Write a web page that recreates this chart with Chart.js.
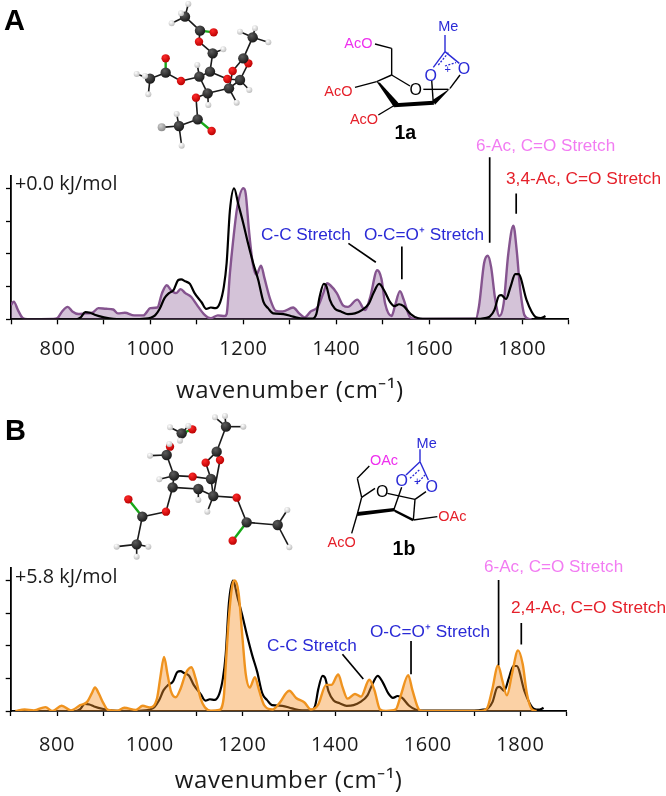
<!DOCTYPE html>
<html>
<head>
<meta charset="utf-8">
<title>IR spectra 1a 1b</title>
<script src="https://cdn.jsdelivr.net/npm/chart.js@4"></script>
<style>
  html, body { margin: 0; padding: 0; background: #fff; }
  #page { position: relative; width: 666px; height: 796px; overflow: hidden; }
  canvas { position: absolute; left: 0; }
  #over { position: absolute; left: 0; top: 0; pointer-events: none; }
  #over text { font-family: "Liberation Sans", Arial, sans-serif; }
</style>
</head>
<body>
<div id="page">
  <canvas id="specA" style="top:130px"></canvas>
  <canvas id="specB" style="top:530px"></canvas>
  <svg id="over" width="666" height="796" viewBox="0 0 666 796" xmlns="http://www.w3.org/2000/svg"></svg>
</div>
<script>
// experimental trace, same in both panels
const expWave = [700, 820, 840, 850, 860, 870, 880, 900, 920, 960, 990, 1000, 1010, 1020, 1030, 1040, 1050, 1060, 1066, 1075, 1085, 1095, 1110, 1120, 1130, 1140, 1150, 1158, 1164, 1171, 1180, 1189, 1200, 1210, 1221, 1232, 1243, 1253, 1264, 1286, 1307, 1329, 1347, 1357, 1364, 1373, 1379, 1386, 1397, 1410, 1425, 1440, 1455, 1470, 1480, 1492, 1503, 1515, 1525, 1535, 1545, 1560, 1575, 1600, 1650, 1700, 1720, 1730, 1740, 1750, 1755, 1765, 1775, 1785, 1792, 1809, 1820, 1830, 1840, 1845, 1850];
const expInt = [0, 0, 0, 0.015, 0.055, 0.05, 0.035, 0.015, 0.003, 0, 0.005, 0.012, 0.03, 0.08, 0.16, 0.2, 0.225, 0.3, 0.305, 0.29, 0.27, 0.2, 0.13, 0.08, 0.09, 0.085, 0.13, 0.25, 0.43, 0.83, 1, 0.88, 0.73, 0.58, 0.43, 0.3, 0.135, 0.085, 0.045, 0.04, 0.02, 0.005, 0.005, 0.04, 0.17, 0.27, 0.25, 0.15, 0.08, 0.06, 0.04, 0.045, 0.07, 0.12, 0.2, 0.27, 0.22, 0.135, 0.1, 0.115, 0.1, 0.04, 0.01, 0.003, 0.004, 0.003, 0.01, 0.02, 0.07, 0.18, 0.185, 0.155, 0.25, 0.345, 0.345, 0.15, 0.06, 0.015, 0.01, 0.015, 0.025];

// computed 1a
const calcAWave = [700, 706, 715, 725, 735, 790, 800, 810, 822, 832, 845, 860, 875, 888, 905, 920, 930, 945, 965, 985, 1000, 1015, 1025, 1035, 1045, 1055, 1065, 1075, 1088, 1100, 1115, 1130, 1145, 1160, 1164, 1171, 1178, 1187, 1200, 1205, 1212, 1220, 1228, 1238, 1245, 1258, 1270, 1285, 1307, 1320, 1332, 1345, 1360, 1372, 1380, 1387, 1401, 1415, 1425, 1445, 1462, 1473, 1488, 1497, 1505, 1519, 1526, 1537, 1545, 1558, 1570, 1700, 1707, 1718, 1726, 1733, 1742, 1751, 1760, 1770, 1781, 1788, 1795, 1805, 1816, 1820];
const calcAInt = [0.11, 0.135, 0.07, 0.01, 0, 0.003, 0.01, 0.06, 0.095, 0.06, 0.04, 0.045, 0.05, 0.085, 0.08, 0.075, 0.045, 0.05, 0.03, 0.03, 0.085, 0.09, 0.2, 0.26, 0.22, 0.2, 0.23, 0.2, 0.17, 0.11, 0.04, 0.008, 0.03, 0.025, 0.04, 0.35, 0.6, 0.86, 1, 0.96, 0.68, 0.43, 0.34, 0.41, 0.32, 0.15, 0.065, 0.06, 0.09, 0.045, 0.015, 0.06, 0.095, 0.2, 0.275, 0.26, 0.2, 0.105, 0.095, 0.15, 0.07, 0.17, 0.375, 0.31, 0.12, 0.025, 0.1, 0.215, 0.15, 0.02, 0.003, 0.005, 0.1, 0.43, 0.485, 0.4, 0.15, 0.025, 0.12, 0.5, 0.715, 0.53, 0.25, 0.03, 0.002, 0];

// computed 1b
const calcBWave = [710, 730, 750, 775, 790, 810, 830, 850, 865, 875, 882, 890, 900, 910, 930, 945, 970, 985, 1000, 1016, 1023, 1031, 1038, 1046, 1056, 1067, 1078, 1090, 1099, 1110, 1119, 1132, 1150, 1160, 1164, 1171, 1179, 1184, 1192, 1200, 1207, 1216, 1227, 1236, 1247, 1265, 1280, 1301, 1316, 1334, 1348, 1363, 1381, 1392, 1407, 1416, 1427, 1443, 1456, 1474, 1485, 1497, 1510, 1531, 1542, 1558, 1567, 1581, 1590, 1715, 1728, 1739, 1752, 1761, 1771, 1782, 1795, 1805, 1814, 1825, 1835];
const calcBInt = [0, 0.012, 0.005, 0.03, 0, 0.04, 0.005, 0.045, 0.07, 0.135, 0.18, 0.135, 0.06, 0.008, 0.003, 0.025, 0.008, 0.04, 0.028, 0.1, 0.26, 0.415, 0.29, 0.15, 0.105, 0.175, 0.29, 0.335, 0.25, 0.095, 0.028, 0.003, 0.008, 0.11, 0.34, 0.72, 0.975, 1, 0.9, 0.57, 0.29, 0.18, 0.26, 0.16, 0.045, 0.012, 0.06, 0.155, 0.1, 0.065, 0.012, 0.045, 0.2, 0.2, 0.28, 0.185, 0.095, 0.13, 0.11, 0.24, 0.16, 0.012, 0, 0.012, 0.12, 0.275, 0.16, 0.012, 0, 0, 0.02, 0.16, 0.35, 0.235, 0.12, 0.285, 0.465, 0.36, 0.135, 0.012, 0];

const xTickLabels = [800, 1000, 1200, 1400, 1600, 1800];
const yTickValues = [0, 0.25, 0.5, 0.75, 1];
const xTitle = 'wavenumber (cm\u207B\u00B9)';

// callout leaders, in axis units
const leadersA = [
  [[1426, 0.58], [1485, 0.435]],
  [[1541, 0.555], [1541, 0.305]],
  [[1730, 1.237], [1730, 0.585]],
  [[1787, 0.96], [1787, 0.805]],
];
const leadersB = [
  [[1416, 0.435], [1461, 0.245]],
  [[1564, 0.537], [1564, 0.282]],
  [[1753, 1.005], [1753, 0.35]],
  [[1802, 0.674], [1802, 0.51]],
];

const xy = (xs, ys) => xs.map((x, i) => ({ x, y: ys[i] }));

function leaderSets(list) {
  return list.map(seg => ({
    data: seg.map(p => ({ x: p[0], y: p[1] })),
    borderColor: '#000', borderWidth: 1.7, pointRadius: 0, fill: false, clip: false, tension: 0, order: 0,
  }));
}

function makeChart(id, H, box, calcWave, calcInt, lineCol, fillCol, expOnTop, leaders) {
  const canvas = document.getElementById(id);
  return new Chart(canvas, {
    type: 'line',
    data: {
      datasets: [
        { label: 'exp', data: xy(expWave, expInt), borderColor: '#000', borderWidth: 2.2, pointRadius: 0, cubicInterpolationMode: 'monotone', fill: false, order: expOnTop ? 1 : 3 },
        { label: 'calc', data: xy(calcWave, calcInt), borderColor: lineCol, backgroundColor: fillCol, borderWidth: 2.4, pointRadius: 0, cubicInterpolationMode: 'monotone', fill: 'origin', order: 2 },
        ...leaderSets(leaders),
      ],
    },
    options: {
      responsive: false, animation: false, devicePixelRatio: 1,
      layout: { padding: { left: 0, right: 666 - box.right, top: box.top, bottom: 0 } },
      plugins: { legend: { display: false }, tooltip: { enabled: false } },
      scales: {
        x: {
          type: 'linear', min: 700, max: 1900,
          afterFit(s) { s.height = H - box.base; s.paddingLeft = 0; s.paddingRight = 0; },
          ticks: {
            stepSize: 100, autoSkip: false, maxRotation: 0, padding: box.tickPad, color: '#1a1a1a',
            font: { family: '"Open Sans"', size: 20 },
            callback: v => xTickLabels.includes(v) ? String(v) : '',
          },
          grid: { drawOnChartArea: false, tickLength: 5, tickColor: '#000', tickWidth: 1.3 },
          border: { color: '#000', width: 1.8 },
          title: { display: true, text: xTitle, color: '#1a1a1a', font: { family: '"Open Sans"', size: 24 }, padding: { top: 0, bottom: 0 } },
        },
        y: {
          min: 0, max: 1.094,
          afterFit(s) { s.width = box.left; },
          afterBuildTicks(s) { s.ticks = yTickValues.map(value => ({ value })); },
          ticks: { display: false },
          grid: { drawOnChartArea: false, tickLength: 5, tickColor: '#000', tickWidth: 1.3 },
          border: { color: '#000', width: 1.8 },
        },
      },
    },
    plugins: [{ id: 'spacing', beforeDraw(c) { c.ctx.letterSpacing = '0.6px'; } }],
  });
}

function size(id, h) { const c = document.getElementById(id); c.width = 666; c.height = h; c.style.width = '666px'; c.style.height = h + 'px'; }
size('specA', 276); size('specB', 266);

makeChart('specA', 276, { left: 11, right: 568.7, top: 46, base: 189.3, tickPad: 13 }, calcAWave, calcAInt, '#85548f', 'rgba(128,80,140,0.34)', true, leadersA);
makeChart('specB', 266, { left: 10.7, right: 566.7, top: 38.3, base: 181, tickPad: 17 }, calcBWave, calcBInt, '#ef931f', 'rgba(245,145,40,0.42)', false, leadersB);

// ----- overlay: labels and molecule drawings -----
const NS = 'http://www.w3.org/2000/svg';
const over = document.getElementById('over');
function el(name, attrs, parent) {
  const e = document.createElementNS(NS, name);
  for (const k in attrs) e.setAttribute(k, attrs[k]);
  (parent || over).appendChild(e);
  return e;
}
function label(txt, x, y, sz, col, extra) {
  const t = el('text', Object.assign({ x, y, 'font-size': sz, fill: col, 'dominant-baseline': 'central' }, extra || {}));
  t.textContent = txt;
  return t;
}
const BLUE = '#2a2ad6', RED = '#e5202a', MAG = '#ee30ee', PINK = '#f27cf2', INK = '#1a1a1a';
const OS = { style: 'font-family:"Open Sans"' };

label('A', 4, 20, 29, '#000', { 'font-weight': 'bold' });
label('B', 5, 430, 29, '#000', { 'font-weight': 'bold' });

label('+0.0 kJ/mol', 15, 182, 19.8, INK, OS);
label('C-C Stretch', 261, 234, 17.2, BLUE);
label('O-C=O\u207A Stretch', 364, 234, 17.2, BLUE);
label('6-Ac, C=O Stretch', 476, 145, 17.1, PINK);
label('3,4-Ac, C=O Stretch', 506, 178, 17.3, RED);

label('+5.8 kJ/mol', 15, 575, 19.8, INK, OS);
label('C-C Stretch', 267, 645, 17.2, BLUE);
label('O-C=O\u207A Stretch', 370, 631, 17.2, BLUE);
label('6-Ac, C=O Stretch', 484, 566, 17.1, PINK);
label('2,4-Ac, C=O Stretch', 511, 607, 17.3, RED);

// ball and stick models, coords as measured on 3x crops
const defs = el('defs', {});
function grad(id, a, b) {
  const g = el('radialGradient', { id, cx: '38%', cy: '32%', r: '70%' }, defs);
  el('stop', { offset: '0', 'stop-color': a }, g);
  el('stop', { offset: '1', 'stop-color': b }, g);
}
grad('gC', '#5c5c5c', '#181818'); grad('gO', '#ff2a2a', '#b80000'); grad('gH', '#ffffff', '#bcbcbc'); grad('gG', '#cfcfcf', '#8a8a8a');
const RAD = { C: 5.2, O: 4.2, H: 3, G: 4 };

function ballStick(atoms, bonds, ox, oy) {
  const P = a => [ox + atoms[a][0] / 3, oy + atoms[a][1] / 3];
  bonds.forEach(b => {
    const p = P(b[0]), q = P(b[1]), green = b[2] === 1;
    el('line', { x1: p[0], y1: p[1], x2: q[0], y2: q[1], stroke: green ? '#18a818' : '#1a1a1a', 'stroke-width': green ? 2.4 : 1.6 });
  });
  atoms.forEach((a, i) => {
    const p = P(i);
    el('circle', { cx: p[0], cy: p[1], r: RAD[a[2]], fill: 'url(#g' + a[2] + ')' });
  });
}

const molAAtoms = [[195,50,'C'],[205,12,'H'],[155,70,'H'],[183,40,'H'],[240,92,'C'],[281,97,'O'],[237,125,'O'],[278,160,'C'],[310,148,'H'],[270,215,'C'],[322,237,'O'],[238,230,'C'],[232,195,'H'],[183,243,'O'],[137,218,'C'],[137,175,'O'],[90,236,'C'],[50,222,'H'],[85,283,'H'],[75,228,'H'],[263,280,'C'],[265,315,'H'],[228,293,'O'],[233,358,'C'],[275,393,'O'],[177,378,'C'],[125,382,'G'],[170,342,'H'],[185,437,'H'],[327,265,'C'],[350,308,'H'],[360,240,'C'],[388,270,'H'],[338,213,'O'],[385,190,'O'],[370,175,'C'],[398,112,'C'],[360,95,'H'],[405,85,'H'],[445,127,'H']];
const molABonds = [[0,1],[0,2],[0,3],[0,4],[4,5,1],[4,6],[6,7],[7,8],[7,9],[9,10],[9,11],[11,12],[11,13],[13,14],[14,15,1],[14,16],[16,17],[16,18],[16,19],[11,20],[20,21],[20,22],[22,23],[23,24,1],[23,25],[25,26],[25,27],[25,28],[20,29],[29,30],[29,31],[10,31],[31,32],[31,34],[29,33],[33,35],[34,35],[35,36],[36,37],[36,38],[36,39]];
ballStick(molAAtoms, molABonds, 120, 0);

const molBAtoms = [[245,70,'C'],[277,58,'O'],[210,52,'H'],[265,48,'H'],[240,92,'H'],[210,110,'O'],[200,135,'C'],[150,137,'H'],[208,102,'H'],[222,197,'C'],[178,208,'H'],[218,232,'C'],[278,200,'O'],[295,237,'C'],[295,270,'H'],[333,207,'C'],[340,258,'C'],[322,305,'H'],[410,263,'O'],[440,337,'C'],[398,392,'O'],[533,345,'C'],[562,300,'H'],[568,412,'H'],[198,305,'O'],[127,320,'C'],[85,268,'O'],[110,403,'C'],[50,410,'H'],[145,410,'H'],[110,440,'H'],[317,158,'O'],[360,150,'O'],[350,125,'C'],[378,50,'C'],[345,22,'H'],[375,18,'H'],[430,50,'H']];
const molBBonds = [[0,1,1],[0,2],[0,3],[0,4],[6,5],[6,7],[6,9],[9,10],[9,11],[9,12],[11,13],[13,14],[13,16],[12,15],[15,16],[15,31],[31,33],[16,32],[32,33],[33,34],[34,35],[34,36],[34,37],[16,18],[18,19],[19,20,1],[19,21],[21,22],[21,23],[11,24],[24,25],[25,26,1],[25,27],[27,28],[27,29],[27,30],[16,17]];
ballStick(molBAtoms, molBBonds, 100, 410);

// skeletal formulas
function skeleton(ox, oy, lines, wedges, dashes, texts) {
  const X = v => ox + v / 3, Y = v => oy + v / 3;
  lines.forEach(l => el('line', { x1: X(l[0]), y1: Y(l[1]), x2: X(l[2]), y2: Y(l[3]), stroke: l[4] || '#000', 'stroke-width': 1.4 }));
  dashes.forEach(l => el('line', { x1: X(l[0]), y1: Y(l[1]), x2: X(l[2]), y2: Y(l[3]), stroke: l[4] || '#000', 'stroke-width': 1.3, 'stroke-dasharray': '2 1.5' }));
  wedges.forEach(w => el('polygon', { points: w.map((v, i) => i % 2 ? Y(v) : X(v)).join(' '), fill: '#000' }));
  texts.forEach(t => {
    label(t[0], X(t[1]), Y(t[2]), t[3], t[4], { 'text-anchor': 'middle', 'font-weight': t[5] ? 'bold' : 'normal' });
  });
}

skeleton(330, 10,
  [[345,75,345,125,BLUE],[345,125,310,172,BLUE],[345,125,388,160,BLUE],[360,235,390,195],[305,210,310,280],[135,102,185,115],[185,115,185,195],[185,195,240,228],[140,215,185,195],[75,232,140,215],[145,315,195,285],[280,238,355,238]],
  [[140,215,150,218,205,278,192,292],[192,292,195,280,310,272,312,284],[308,270,362,234,315,284]],
  [[325,165,355,128,BLUE],[345,168,378,158,BLUE]],
  [['Me',355,48,14.5,BLUE],['O',302,195,16,BLUE],['O',402,175,16,BLUE],['+',353,178,11,BLUE],['O',257,238,16,'#000'],['AcO',85,98,14.5,MAG],['AcO',25,242,14.5,RED],['AcO',102,328,14.5,RED],['1a',226,366,19.5,'#000',1]]);

skeleton(100, 410,
  [[960,118,960,155,BLUE],[960,155,918,195,BLUE],[960,155,985,210,BLUE],[945,268,978,245],[905,232,882,298],[808,168,772,205],[772,205,785,262],[785,262,825,235],[862,250,945,268],[945,268,940,330],[785,262,772,312],[940,330,1012,320],[772,312,755,370]],
  [[772,306,882,294,884,304,772,318],[880,296,940,326,938,334,884,306]],
  [[930,205,960,178,BLUE],[950,222,975,195,BLUE]],
  [['Me',980,98,14.5,BLUE],['O',905,212,16,BLUE],['O',995,230,16,BLUE],['+',952,213,11,BLUE],['O',847,245,16,'#000'],['OAc',852,150,14.5,MAG],['OAc',1057,318,14.5,RED],['AcO',725,395,14.5,RED],['1b',912,413,19.5,'#000',1]]);
</script>
</body>
</html>
